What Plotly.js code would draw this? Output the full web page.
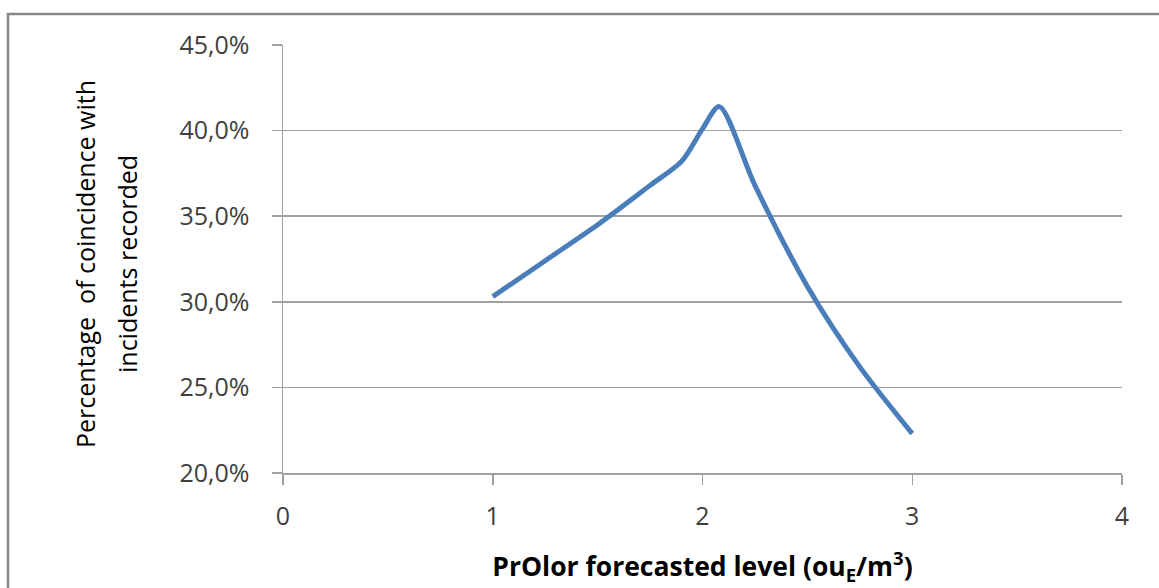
<!DOCTYPE html>
<html>
<head>
<meta charset="utf-8">
<script src="https://cdn.plot.ly/plotly-3.0.1.min.js"></script>
<style>
  html, body { margin: 0; padding: 0; background: #ffffff; }
  #chart { width: 1159px; height: 588px; }
</style>
</head>
<body>
<div id="chart"></div>
<script>
// PrOlor forecasted level (ouE/m3)
const levels = [1, 1.25, 1.5, 1.75, 1.9, 2, 2.08, 2.25, 2.5, 2.75, 3];
// Percentage of coincidence with incidents recorded (%)
const coincidence = [30.3, 32.4, 34.5, 36.8, 38.2, 40.1, 41.4, 36.8, 30.9, 26.2, 22.3];

const yTickVals = [20, 25, 30, 35, 40, 45];
const yTickText = ["20,0%", "25,0%", "30,0%", "35,0%", "40,0%", "45,0%"];
const xTickVals = [0, 1, 2, 3, 4];
const xTickText = ["0", "1", "2", "3", "4"];
const yTitleLines = ["Percentage  of coincidence with", "incidents recorded"];

const axisGray = "#a0a0a0";
const tickFont = { family: "Open Sans, sans-serif", size: 25, color: "#3f3f3f" };
const titleFont = { family: "Open Sans, sans-serif", size: 25, color: "#000000" };

const trace = {
  x: levels,
  y: coincidence,
  type: "scatter",
  mode: "lines",
  line: { color: "#4a7ebb", width: 5, shape: "spline", smoothing: 0.8 },
  hoverinfo: "x+y",
  showlegend: false
};

const layout = {
  width: 1159,
  height: 588,
  margin: { l: 283, r: 37, t: 45, b: 115 },
  paper_bgcolor: "#ffffff",
  plot_bgcolor: "#ffffff",
  showlegend: false,
  xaxis: {
    range: [0, 4],
    tickvals: xTickVals,
    ticktext: xTickText,
    showgrid: false,
    zeroline: false,
    showline: true,
    linecolor: axisGray,
    linewidth: 1.5,
    ticks: "outside",
    ticklen: 10,
    tickwidth: 1.5,
    tickcolor: axisGray,
    ticklabelstandoff: 10,
    tickfont: tickFont,
    title: {
      text: "<b>PrOlor forecasted level (ou<sub>E</sub>/m<sup>3</sup>)</b>",
      font: { family: "Open Sans, sans-serif", size: 26.5, color: "#000000" },
      standoff: 27
    },
    fixedrange: true
  },
  yaxis: {
    range: [20, 45],
    tickvals: yTickVals,
    ticktext: yTickText,
    showgrid: true,
    gridcolor: axisGray,
    gridwidth: 1.5,
    zeroline: false,
    showline: true,
    linecolor: axisGray,
    linewidth: 1.5,
    ticks: "outside",
    ticklen: 10,
    tickwidth: 1.5,
    tickcolor: axisGray,
    ticklabelstandoff: 17,
    tickfont: tickFont,
    fixedrange: true
  },
  annotations: [
    {
      xref: "paper", yref: "paper",
      x: (85 - 283) / 839, y: (473 - 264) / 428,
      xanchor: "center", yanchor: "middle",
      text: yTitleLines[0], textangle: -90,
      showarrow: false, font: titleFont
    },
    {
      xref: "paper", yref: "paper",
      x: (127 - 283) / 839, y: (473 - 264) / 428,
      xanchor: "center", yanchor: "middle",
      text: yTitleLines[1], textangle: -90,
      showarrow: false, font: titleFont
    }
  ],
  shapes: [
    {
      type: "rect",
      xref: "paper", yref: "paper",
      x0: (8 - 283) / 839, x1: (1175 - 283) / 839,
      y0: (473 - 600) / 428, y1: (473 - 14) / 428,
      line: { color: "#878787", width: 2.5 },
      fillcolor: "rgba(0,0,0,0)",
      layer: "below"
    }
  ]
};

Plotly.newPlot("chart", [trace], layout, { displayModeBar: false, staticPlot: true });
</script>
</body>
</html>
